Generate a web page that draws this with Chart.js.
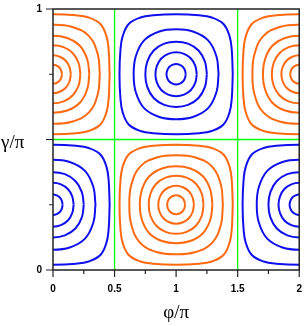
<!DOCTYPE html>
<html>
<head>
<meta charset="utf-8">
<script src="https://cdn.jsdelivr.net/npm/chart.js@4/dist/chart.umd.min.js"></script>
<style>
  html, body { margin: 0; padding: 0; background: #fff; }
</style>
</head>
<body>
<canvas id="contourChart" width="307" height="326"></canvas>
<script>
// contour rings, first quadrant only, as offsets (phi/pi, gamma/pi) from the cell centre
const orangeRings = [
  [[0.0725, 0], [0.067, 0.0139], [0.0514, 0.0257], [0.0278, 0.0335], [0, 0.0363]],
  [[0.145, 0], [0.134, 0.0278], [0.1037, 0.0518], [0.0555, 0.067], [0, 0.0725]],
  [[0.2225, 0], [0.2079, 0.0431], [0.1609, 0.0804], [0.0861, 0.1039], [0, 0.1113]],
  [[0.295, 0], [0.278, 0.0575], [0.2179, 0.109], [0.115, 0.139], [0, 0.1475]],
  [[0.38, 0], [0.3643, 0.0755], [0.2923, 0.1462], [0.1509, 0.1822], [0, 0.19]],
  [[0.46, 0], [0.452, 0.0935], [0.4345, 0.145], [0.385, 0.1925], [0.29, 0.2173], [0.187, 0.226], [0, 0.23]]
];
const blueRings = [
  [[0.078, 0], [0.072, 0.015], [0.0555, 0.0278], [0.03, 0.036], [0, 0.039]],
  [[0.168, 0], [0.156, 0.0323], [0.1206, 0.0603], [0.0645, 0.078], [0, 0.084]],
  [[0.25, 0], [0.2343, 0.0485], [0.182, 0.091], [0.097, 0.1172], [0, 0.125]],
  [[0.345, 0], [0.328, 0.068], [0.26, 0.13], [0.136, 0.164], [0, 0.1725]],
  [[0.46, 0], [0.452, 0.0935], [0.4345, 0.145], [0.385, 0.1925], [0.29, 0.2173], [0.187, 0.226], [0, 0.23]]
];
const orangeCentres = [[0, 0.75], [2, 0.75], [1, 0.25]];
const blueCentres = [[1, 0.75], [0, 0.25], [2, 0.25]];
const separatrices = [
  [[0.5, 0], [0.5, 1]],
  [[1.5, 0], [1.5, 1]],
  [[0, 0.5], [2, 0.5]]
];
const xTickValues = [0, 0.25, 0.5, 0.75, 1, 1.25, 1.5, 1.75, 2];
const xTickLabels = { 0: "0", 0.5: "0.5", 1: "1", 1.5: "1.5", 2: "2" };
const yTickValues = [0, 0.25, 0.5, 0.75, 1];
const yTickLabels = { 0: "0", 1: "1" };

function buildRing(quad, cx, cy) {
  const pts = [];
  quad.forEach(([dx, dy]) => pts.push({ x: cx + dx, y: cy + dy }));
  quad.slice(0, -1).reverse().forEach(([dx, dy]) => pts.push({ x: cx - dx, y: cy + dy }));
  quad.slice(1).forEach(([dx, dy]) => pts.push({ x: cx - dx, y: cy - dy }));
  quad.slice(0, -1).reverse().forEach(([dx, dy]) => pts.push({ x: cx + dx, y: cy - dy }));
  return pts;
}

const datasets = [];
separatrices.forEach((line) => {
  datasets.push({
    data: line.map(([x, y]) => ({ x, y })),
    showLine: true,
    borderColor: "#00ff00",
    borderWidth: 1.3,
    pointRadius: 0,
    clip: 0
  });
});
function addRings(rings, centres, color) {
  centres.forEach(([cx, cy]) => {
    rings.forEach((quad) => {
      datasets.push({
        data: buildRing(quad, cx, cy),
        showLine: true,
        borderColor: color,
        borderWidth: 2,
        pointRadius: 0,
        tension: 0.4,
        clip: 0
      });
    });
  });
}
addRings(orangeRings, orangeCentres, "#ff6a10");
addRings(blueRings, blueCentres, "#1010ee");

const frame = {
  id: "frame",
  afterDraw(chart) {
    const { ctx, chartArea: a, scales } = chart;
    ctx.save();
    ctx.strokeStyle = "#222";
    ctx.lineWidth = 1.5;
    ctx.strokeRect(a.left, a.top, a.right - a.left, a.bottom - a.top);
    ctx.lineWidth = 1.2;
    ctx.beginPath();
    xTickValues.forEach((v) => {
      const px = scales.x.getPixelForValue(v);
      const len = v % 0.5 === 0 ? 7 : 4;
      ctx.moveTo(px, a.bottom);
      ctx.lineTo(px, a.bottom + len);
    });
    yTickValues.forEach((v) => {
      const py = scales.y.getPixelForValue(v);
      const len = v % 0.5 === 0 ? 7 : 4;
      ctx.moveTo(a.left, py);
      ctx.lineTo(a.left - len, py);
    });
    ctx.stroke();
    ctx.fillStyle = "#000";
    ctx.font = '19px "Liberation Serif"';
    ctx.textBaseline = "middle";
    ctx.textAlign = "left";
    ctx.fillText("γ/π", 1, 143);
    ctx.restore();
  }
};

new Chart(document.getElementById("contourChart"), {
  type: "scatter",
  data: { datasets: datasets },
  options: {
    responsive: false,
    animation: false,
    devicePixelRatio: 1,
    layout: { padding: { top: 7, right: 5, left: 0, bottom: 0 } },
    plugins: { legend: { display: false }, tooltip: { enabled: false } },
    scales: {
      x: {
        type: "linear",
        min: 0,
        max: 2,
        afterFit: (scale) => { scale.height = 56; },
        afterBuildTicks: (scale) => { scale.ticks = xTickValues.map((v) => ({ value: v })); },
        ticks: {
          autoSkip: false,
          maxRotation: 0,
          padding: 5,
          color: "#000",
          font: { family: "Liberation Sans", size: 10, weight: "bold" },
          callback: (v) => xTickLabels[v] || ""
        },
        grid: { drawOnChartArea: false, tickLength: 8, color: "rgba(0,0,0,0)" },
        border: { display: false },
        title: {
          display: true,
          text: "φ/π",
          color: "#000",
          font: { family: "Liberation Serif", size: 19 },
          padding: { top: 0, bottom: 2 }
        }
      },
      y: {
        type: "linear",
        min: 0,
        max: 1,
        afterFit: (scale) => { scale.width = 53; },
        afterBuildTicks: (scale) => { scale.ticks = yTickValues.map((v) => ({ value: v })); },
        ticks: {
          autoSkip: false,
          padding: 3,
          color: "#000",
          font: { family: "Liberation Sans", size: 10, weight: "bold" },
          callback: (v) => yTickLabels[v] || ""
        },
        grid: { drawOnChartArea: false, tickLength: 8, color: "rgba(0,0,0,0)" },
        border: { display: false }
      }
    }
  },
  plugins: [frame]
});
</script>
</body>
</html>
